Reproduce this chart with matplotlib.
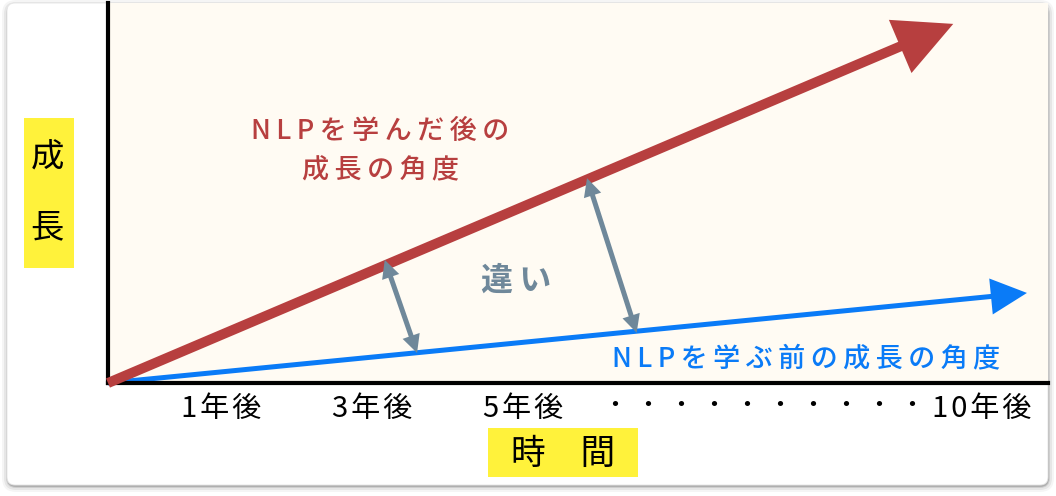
import matplotlib
matplotlib.use('Agg')
import matplotlib.pyplot as plt
from matplotlib.patches import FancyBboxPatch, Rectangle

plt.rcParams['font.family'] = ['Noto Sans CJK JP', 'DejaVu Sans']

# --- data ---
origin = (0.0, 0.0)
after_end = (11.24, 94.5)     # NLPを学んだ後
before_end = (12.22, 23.7)    # NLPを学ぶ前
gap1 = [(3.68, 32.4), (4.11, 7.9)]
gap2 = [(6.37, 53.9), (7.03, 13.2)]
tick_pos = [1.5, 3.51, 5.52, 8.73, 11.62]
tick_labels = ['1\u200a年\u200a後', '3\u200a年\u200a後', '5\u200a年\u200a後',
               ' '.join(['・'] * 10), '1\u200a0\u200a年\u200a後']

label_after = 'N\u2009L\u2009P\u2009を\u2009学\u2009ん\u2009だ\u2009後\u2009の\n成\u2009長\u2009の\u2009角\u2009度'
label_before = 'N\u2009L\u2009P\u2009を\u2009学\u2009ぶ\u2009前\u2009の\u2009成\u2009長\u2009の\u2009角\u2009度'
label_gap = '違\u2009い'

RED = '#B73F3F'
BLUE = '#0A7BF7'
GRAY = '#6F889A'
YELLOW = '#FFF23B'
CREAM = '#FFFBF3'

W, H = 1056, 496
fig = plt.figure(figsize=(W / 100, H / 100), dpi=100)

# background card in pixel coords
bg = fig.add_axes([0, 0, 1, 1], zorder=0)
bg.set_xlim(0, W)
bg.set_ylim(H, 0)
bg.axis('off')
for g, a in [(6, 0.04), (4, 0.06), (2, 0.10), (1, 0.15)]:
    bg.add_patch(FancyBboxPatch((7 - g + 1, 3 - g + 3), 1041 + 2 * g - 1, 482 + 2 * g - 2,
                                boxstyle='round,pad=0,rounding_size=%d' % (8 + g),
                                fc='black', ec='none', alpha=a))
bg.add_patch(FancyBboxPatch((7, 3), 1041, 482, boxstyle='round,pad=0,rounding_size=8',
                            fc='white', ec='#e4e4e4', lw=0.6))

# main chart
ax = fig.add_axes([108 / W, (H - 383) / H, 940 / W, 380 / H], zorder=1)
ax.set_facecolor(CREAM)
ax.set_xlim(0, 12.5)
ax.set_ylim(0, 100)
for s in ['top', 'right']:
    ax.spines[s].set_visible(False)
for s in ['left', 'bottom']:
    ax.spines[s].set_linewidth(3)
    ax.spines[s].set_color('black')
ax.set_yticks([])
ax.set_xticks(tick_pos, tick_labels, fontsize=21)
ax.tick_params(axis='x', length=0, pad=8)
dots = ax.get_xticklabels()[3]
dots.set_fontsize(18)
dots.set_family(['DejaVu Sans', 'Noto Sans CJK JP'])


def arrow(ax, p0, p1, color, lw, hl, hw, both=False, z=3):
    # shaft
    ax.annotate('', xy=p1, xytext=p0,
                arrowprops=dict(arrowstyle='-', color=color, lw=lw, shrinkA=hl * 0.8 if both else 0,
                                shrinkB=hl * 0.8, capstyle='butt'), zorder=z)
    # head(s)
    style = '<|-|>' if both else '-|>'
    ax.annotate('', xy=p1, xytext=p0,
                arrowprops=dict(arrowstyle='%s,head_length=%g,head_width=%g' % (style, hl, hw),
                                color=color, lw=0, shrinkA=0, shrinkB=0, mutation_scale=1), zorder=z)


arrow(ax, origin, before_end, BLUE, 3.6, 26, 13, z=2)
arrow(ax, origin, after_end, RED, 7.2, 41.5, 20.8, z=3)
arrow(ax, gap1[0], gap1[1], GRAY, 3.6, 13, 6.5, both=True)
arrow(ax, gap2[0], gap2[1], GRAY, 3.6, 13, 6.5, both=True)

ax.text(3.62, 61, label_after, color=RED, fontsize=19.5, fontweight='medium',
        ha='center', va='center', linespacing=1.55)
ax.text(6.70, 6.3, label_before, color=BLUE, fontsize=19.5, fontweight='medium', ha='left', va='center')
ax.text(5.43, 26.8, label_gap, color=GRAY, fontsize=23, fontweight='bold', ha='center', va='center')

# axis titles with yellow boxes
fg = fig.add_axes([0, 0, 1, 1], zorder=2)
fg.set_xlim(0, W)
fg.set_ylim(H, 0)
fg.axis('off')
fg.add_patch(Rectangle((24, 118), 50, 150, fc=YELLOW, ec='none'))
fg.text(47, 158, '成', fontsize=24, ha='center', va='center')
fg.text(47, 228, '長', fontsize=24, ha='center', va='center')
fg.add_patch(Rectangle((488, 428), 150, 49, fc=YELLOW, ec='none'))
fg.text(563, 454, '時\u3000間', fontsize=25, ha='center', va='center')

fig.savefig('out.png', dpi=100)
